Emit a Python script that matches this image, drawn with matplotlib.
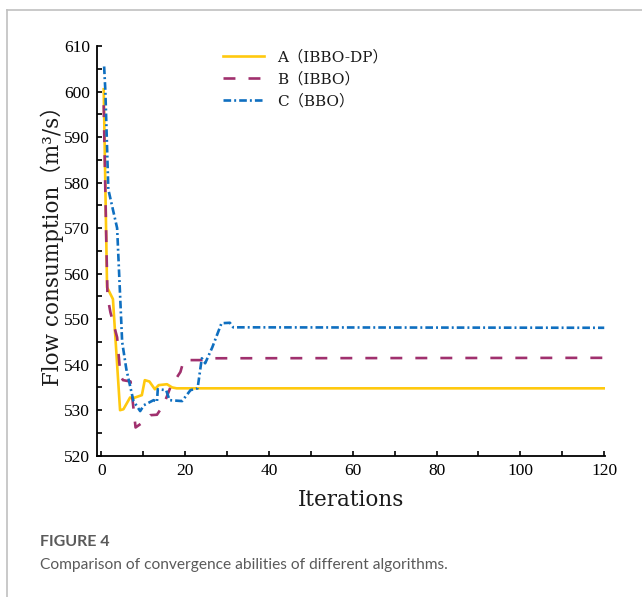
import matplotlib.pyplot as plt
from matplotlib.lines import Line2D
from matplotlib.ticker import MultipleLocator

plt.rcParams["lines.scale_dashes"] = False

# vertices (iteration, flow consumption m3/s)
iter_a = [0.6, 1.4, 2.8, 4.5, 5.3, 6.9, 7.5, 9.7, 10.4, 11.5, 12.8, 13.7,
          15.7, 16.9, 18.0, 120]
flow_a = [600.5, 557.0, 554.4, 530.0, 530.2, 532.8, 532.6, 533.3, 536.6,
          536.3, 534.6, 535.5, 535.7, 535.0, 534.8, 534.8]

iter_b = [0.6, 1.2, 1.5, 2.2, 3.8, 4.6, 5.2, 7.0, 8.2, 10.2, 11.7, 13.3,
          14.9, 16.5, 18.9, 19.7, 24.0, 26.0, 120]
flow_b = [597.0, 568.0, 555.0, 551.5, 546.0, 537.5, 536.6, 536.3, 526.2,
          527.5, 528.9, 529.0, 531.2, 535.0, 538.4, 541.0, 541.0, 541.4, 541.5]

iter_c = [0.7, 1.0, 1.7, 3.8, 5.0, 6.0, 7.7, 9.3, 10.2, 12.5, 13.3, 13.5,
          15.5, 16.3, 19.3, 21.3, 23.0, 24.0, 24.8, 26.5, 28.7, 30.7, 31.5, 120]
flow_c = [605.5, 600.0, 578.5, 570.0, 545.0, 539.0, 532.0, 529.8, 531.1,
          532.2, 531.8, 534.6, 534.4, 532.2, 532.0, 534.4, 534.8, 541.4,
          540.3, 543.8, 549.1, 549.2, 548.2, 548.1]

labels = ["A\uff08IBBO-DP\uff09", "B\uff08IBBO\uff09", "C\uff08BBO\uff09"]
colors = ["#FFC90E", "#A0306E", "#0F6FC0"]

TXT = ["DejaVu Serif", "Noto Sans CJK SC"]
NUM = ["Liberation Serif", "DejaVu Serif"]

fig = plt.figure(figsize=(6.42, 5.97), dpi=100)
ax = fig.add_axes([97 / 642, 1 - 455.7 / 597, (605.5 - 97) / 642, (455.7 - 46) / 597])

ax.plot(iter_a, flow_a, color=colors[0], lw=1.9, label=labels[0])
ax.plot(iter_b, flow_b, color=colors[1], lw=1.9, dashes=(8.6, 9.4), label=labels[1])
ax.plot(iter_c, flow_c, color=colors[2], lw=1.9, dashes=(5.5, 2.2, 1.4, 2.2), label=labels[2])

ax.set_xlim(-1, 120.3)
ax.set_ylim(520, 610)
ax.xaxis.set_major_locator(MultipleLocator(20))
ax.xaxis.set_minor_locator(MultipleLocator(10))
ax.yaxis.set_major_locator(MultipleLocator(10))
ax.yaxis.set_minor_locator(MultipleLocator(5))
ax.tick_params(which="both", direction="in", width=1.2, length=3.5, labelsize=12.5, pad=5)
for lab in ax.get_xticklabels() + ax.get_yticklabels():
    lab.set_family(NUM)

for side in ["top", "right"]:
    ax.spines[side].set_visible(False)
for side in ["left", "bottom"]:
    ax.spines[side].set_linewidth(1.3)

ax.set_xlabel("Iterations", family=TXT, fontsize=15.5, labelpad=7.5, color="#1a1a1a")
ax.set_ylabel("Flow consumption\uff08m\u00b3/s\uff09", family=TXT, fontsize=15.5,
              color="#1a1a1a")
ax.yaxis.set_label_coords(-0.065, 0.524)

ax.legend(loc="upper left", bbox_to_anchor=(0.22, 1.025), frameon=False,
          handlelength=2.7, handletextpad=0.85, labelspacing=0.5,
          prop={"family": TXT, "size": 11}, labelcolor="#1a1a1a")

# figure frame (light gray border top and left)
fig.add_artist(Line2D([6.5 / 642, 1], [1 - 9.5 / 597] * 2, color="#c0c0c0", lw=1.2))
fig.add_artist(Line2D([6.5 / 642] * 2, [0, 1 - 9.5 / 597], color="#c0c0c0", lw=1.2))

fig.text(40 / 642, 1 - 542 / 597, "FIGURE 4", family="Lato", fontsize=11.5,
         color="#5a5a5a", va="center", weight="bold")
fig.text(40 / 642, 1 - 565 / 597,
         "Comparison of convergence abilities of different algorithms.",
         family="Lato", fontsize=11.2, color="#5a5a5a", va="center")

fig.savefig("out.png", dpi=100)
